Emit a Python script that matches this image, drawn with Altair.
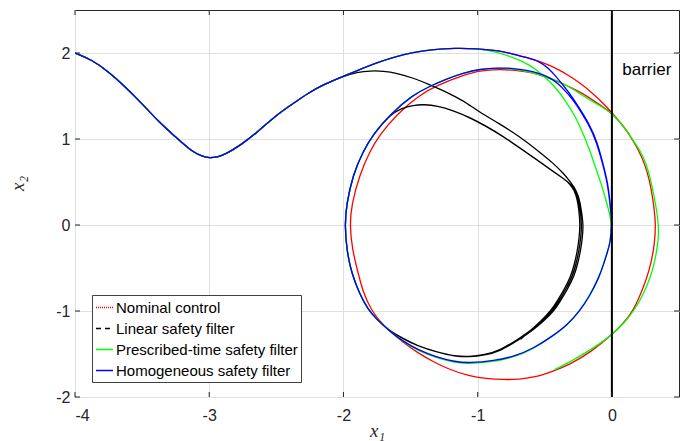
import altair as alt
import pandas as pd

# ---------------- data (x1, x2) ----------------
# common start of all four trajectories
common = [(-4.0, 2.0), (-3.876, 1.922), (-3.753, 1.786), (-3.628, 1.612), (-3.504, 1.418),
          (-3.38, 1.205), (-3.256, 1.031), (-3.132, 0.856), (-3.05, 0.795), (-2.996, 0.779),
          (-2.94, 0.790), (-2.884, 0.817), (-2.76, 0.934), (-2.636, 1.088), (-2.512, 1.263),
          (-2.387, 1.399), (-2.264, 1.535), (-2.139, 1.64), (-2.0, 1.73)]

# shared upper arc (nominal, prescribed-time, homogeneous)
arc = [(-1.854, 1.826), (-1.73, 1.90), (-1.605, 1.961), (-1.48, 2.008), (-1.357, 2.038),
       (-1.159, 2.058), (-1.01, 2.05)]

# left side of the filtered loops (bottom -> top)
left_side = [(-1.668, -1.217), (-1.75, -1.10), (-1.817, -0.985), (-1.88, -0.80), (-1.94, -0.558),
             (-1.975, -0.30), (-1.99, 0.0), (-1.978, 0.236), (-1.929, 0.585), (-1.854, 0.856),
             (-1.78, 1.05), (-1.655, 1.283)]

red_tail = [(-0.836, 2.027), (-0.737, 1.988), (-0.64, 1.95), (-0.538, 1.902), (-0.43, 1.835),
            (-0.315, 1.735), (-0.23, 1.642), (-0.141, 1.528), (-0.07, 1.424), (0.0, 1.306),
            (0.07, 1.18), (0.132, 1.045), (0.194, 0.885), (0.244, 0.715), (0.281, 0.52),
            (0.306, 0.30), (0.321, 0.10), (0.325, 0.0), (0.32, -0.2), (0.293, -0.442),
            (0.256, -0.636), (0.21, -0.82), (0.157, -1.0), (0.09, -1.135), (0.0, -1.276),
            (-0.15, -1.47), (-0.315, -1.624), (-0.44, -1.70), (-0.563, -1.767), (-0.69, -1.795),
            (-0.812, -1.799), (-0.94, -1.785), (-1.06, -1.76), (-1.221, -1.674), (-1.33, -1.59),
            (-1.445, -1.488), (-1.56, -1.36), (-1.668, -1.217), (-1.74, -1.10), (-1.792, -0.985),
            (-1.85, -0.80), (-1.891, -0.558), (-1.935, -0.28), (-1.953, 0.0), (-1.94, 0.236),
            (-1.879, 0.585), (-1.804, 0.856), (-1.73, 1.05), (-1.605, 1.283), (-1.432, 1.515),
            (-1.30, 1.625), (-1.109, 1.74), (-0.985, 1.795), (-0.836, 1.81), (-0.72, 1.80),
            (-0.613, 1.779), (-0.50, 1.73), (-0.39, 1.66), (-0.24, 1.553), (-0.12, 1.43),
            (0.0, 1.302), (0.07, 1.182), (0.132, 1.05)]

black_pass1 = [(-1.90, 1.775), (-1.80, 1.794), (-1.70, 1.79), (-1.605, 1.767), (-1.48, 1.71),
               (-1.357, 1.631), (-1.23, 1.545), (-1.109, 1.447), (-0.998, 1.325), (-0.836, 1.175),
               (-0.687, 1.03), (-0.54, 0.85), (-0.439, 0.721), (-0.36, 0.60), (-0.302, 0.488),
               (-0.265, 0.40), (-0.242, 0.30), (-0.228, 0.178), (-0.212, 0.0), (-0.22, -0.15),
               (-0.232, -0.287), (-0.254, -0.45), (-0.282, -0.598), (-0.332, -0.752),
               (-0.382, -0.88), (-0.432, -1.0), (-0.51, -1.12), (-0.585, -1.217), (-0.687, -1.33),
               (-0.836, -1.47), (-0.95, -1.515), (-1.06, -1.535), (-1.171, -1.528), (-1.30, -1.48),
               (-1.445, -1.41), (-1.56, -1.32)]
black_loop2 = [(-1.568, 1.355), (-1.48, 1.392), (-1.40, 1.40), (-1.30, 1.385), (-1.184, 1.33),
               (-1.06, 1.25), (-0.935, 1.147), (-0.81, 1.03), (-0.687, 0.895), (-0.56, 0.76),
               (-0.439, 0.623), (-0.36, 0.54), (-0.31, 0.48), (-0.272, 0.40), (-0.25, 0.30),
               (-0.236, 0.178), (-0.224, 0.0), (-0.232, -0.15), (-0.244, -0.287), (-0.266, -0.45),
               (-0.294, -0.598), (-0.344, -0.752), (-0.394, -0.88), (-0.444, -1.0),
               (-0.52, -1.115), (-0.59, -1.21), (-0.69, -1.32), (-0.836, -1.46), (-0.95, -1.51),
               (-1.06, -1.532), (-1.171, -1.526), (-1.30, -1.478), (-1.445, -1.408),
               (-1.56, -1.318)]
black_loop3 = [(-1.568, 1.357), (-1.48, 1.394), (-1.40, 1.402), (-1.30, 1.387), (-1.184, 1.332),
               (-1.06, 1.252), (-0.935, 1.149), (-0.81, 1.032), (-0.687, 0.897), (-0.56, 0.762),
               (-0.439, 0.625), (-0.362, 0.542), (-0.316, 0.484), (-0.279, 0.40), (-0.258, 0.30),
               (-0.246, 0.178), (-0.236, 0.0), (-0.244, -0.15), (-0.256, -0.287), (-0.278, -0.45),
               (-0.306, -0.598), (-0.356, -0.752), (-0.406, -0.88), (-0.456, -1.0),
               (-0.53, -1.12), (-0.60, -1.215), (-0.68, -1.33)]

green_a = [(-0.92, 2.03), (-0.836, 2.0), (-0.72, 1.94), (-0.613, 1.864), (-0.51, 1.74),
           (-0.414, 1.593), (-0.34, 1.43), (-0.265, 1.244), (-0.215, 1.06), (-0.166, 0.876),
           (-0.129, 0.70), (-0.082, 0.49), (-0.042, 0.28), (-0.012, 0.1), (0.0, 0.0),
           (-0.013, -0.2), (-0.032, -0.3), (-0.062, -0.45), (-0.095, -0.6), (-0.17, -0.835),
           (-0.245, -1.005), (-0.335, -1.17), (-0.455, -1.31), (-0.585, -1.44), (-0.725, -1.535),
           (-0.885, -1.592), (-1.06, -1.615), (-1.171, -1.60), (-1.30, -1.55), (-1.445, -1.46),
           (-1.56, -1.355)]
green_b = [(-1.482, 1.515), (-1.357, 1.612), (-1.23, 1.70), (-1.109, 1.767), (-0.985, 1.812),
           (-0.836, 1.824), (-0.72, 1.815), (-0.613, 1.78), (-0.50, 1.725), (-0.39, 1.67),
           (-0.29, 1.58), (-0.191, 1.477), (-0.09, 1.39), (0.0, 1.302), (0.07, 1.18),
           (0.132, 1.05), (0.206, 0.876), (0.256, 0.72), (0.293, 0.50), (0.325, 0.25),
           (0.35, 0.0), (0.345, -0.2), (0.318, -0.442), (0.281, -0.636), (0.23, -0.82),
           (0.169, -0.985), (0.095, -1.135), (0.0, -1.276), (-0.1, -1.39), (-0.2, -1.49),
           (-0.31, -1.59), (-0.427, -1.682)]

blue_a = [(-0.836, 2.027), (-0.737, 1.988), (-0.64, 1.95), (-0.538, 1.902), (-0.47, 1.82),
          (-0.41, 1.715), (-0.35, 1.60), (-0.29, 1.477), (-0.23, 1.33), (-0.166, 1.166),
          (-0.11, 0.97), (-0.067, 0.72), (-0.03, 0.488), (-0.012, 0.256), (0.0, 0.0),
          (-0.012, -0.2), (-0.03, -0.3), (-0.06, -0.45), (-0.092, -0.598), (-0.166, -0.83),
          (-0.24, -1.0), (-0.33, -1.16), (-0.45, -1.30), (-0.58, -1.43), (-0.72, -1.525),
          (-0.88, -1.58), (-1.06, -1.605), (-1.171, -1.59), (-1.30, -1.54), (-1.445, -1.45),
          (-1.56, -1.35)]
blue_b = [(-1.482, 1.515), (-1.357, 1.612), (-1.23, 1.70), (-1.109, 1.767), (-0.985, 1.814),
          (-0.836, 1.826), (-0.786, 1.826), (-0.69, 1.812), (-0.588, 1.786), (-0.50, 1.74),
          (-0.439, 1.69), (-0.40, 1.64), (-0.36, 1.58), (-0.295, 1.47), (-0.235, 1.33),
          (-0.17, 1.16), (-0.115, 0.97), (-0.07, 0.72), (-0.033, 0.488), (-0.014, 0.256),
          (0.0, 0.0)]

series_names = ["Nominal control", "Linear safety filter",
                "Prescribed-time safety filter", "Homogeneous safety filter"]
series_colors = ["#ff0000", "#000000", "#00ff00", "#0000ff"]
series_dash = [[1, 1], [5, 4], [1, 0], [1, 0]]

x_ticks = [-4, -3, -2, -1, 0]
y_ticks = [-2, -1, 0, 1, 2]
barrier_x = [0]
barrier_label = "barrier"

# ---------------- build ----------------
W, H = 604, 387
FONT = "Liberation Sans"
AX = "#262626"


def path(pts):
    return pd.DataFrame({"x": [p[0] for p in pts], "y": [p[1] for p in pts],
                         "i": list(range(len(pts)))})


paths = {
    "Nominal control": path(common + arc + red_tail),
    "Linear safety filter": path(common + black_pass1 + left_side + black_loop2 + left_side
                                 + black_loop3),
    "Prescribed-time safety filter": path(common + arc + green_a + left_side + green_b),
    "Homogeneous safety filter": path(common + arc + blue_a + left_side + blue_b),
}

xscale = alt.Scale(domain=[-4, 0.5], nice=False, zero=False)
yscale = alt.Scale(domain=[-2, 2.5], nice=False, zero=False)

xaxis = alt.Axis(values=x_ticks, grid=True, gridColor="#dfdfdf", gridWidth=1, domain=False,
                 ticks=False, labelFont=FONT, labelFontSize=16, labelColor=AX, labelPadding=10,
                 labelExpr="'' + datum.value", title="x₁", titleFont="Liberation Serif",
                 titleFontStyle="italic", titleFontWeight="normal", titleFontSize=19,
                 titleColor=AX, titleBaseline="alphabetic", titleY=39)
yaxis = alt.Axis(values=y_ticks, grid=True, gridColor="#dfdfdf", gridWidth=1, domain=False,
                 ticks=False, labelFont=FONT, labelFontSize=16, labelColor=AX, labelPadding=5,
                 labelExpr="'' + datum.value", title="x₂", titleFont="Liberation Serif",
                 titleFontStyle="italic", titleFontWeight="normal", titleFontSize=19,
                 titleColor=AX, titleBaseline="alphabetic", titleX=-52, titleY=173,
                 titleAngle=270)

grid_layer = alt.Chart(pd.DataFrame({"x": x_ticks, "y": y_ticks})).mark_point(opacity=0).encode(
    x=alt.X("x:Q", scale=xscale, axis=xaxis),
    y=alt.Y("y:Q", scale=yscale, axis=yaxis),
)

line_layers = []
for name, col in zip(series_names, series_colors):
    line_layers.append(
        alt.Chart(paths[name]).mark_line(color=col, strokeWidth=1.3, clip=True,
                                         interpolate="basis").encode(
            x=alt.X("x:Q", scale=xscale),
            y=alt.Y("y:Q", scale=yscale),
            order="i:Q",
        )
    )

barrier = alt.Chart(pd.DataFrame({"x": barrier_x})).mark_rule(color="black", strokeWidth=2).encode(
    x=alt.X("x:Q", scale=xscale)
)

barrier_text = alt.Chart(pd.DataFrame({"x": [0.077], "y": [1.748], "t": [barrier_label]})).mark_text(
    align="left", baseline="alphabetic", font=FONT, fontSize=17, color="black"
).encode(x=alt.X("x:Q", scale=xscale), y=alt.Y("y:Q", scale=yscale), text="t:N")

leg_props = dict(title=None, orient="none", legendX=17, legendY=285, direction="vertical",
                 symbolType="stroke", symbolSize=289, symbolStrokeWidth=1.3,
                 labelFont=FONT, labelFontSize=15, labelColor="black", padding=3,
                 rowPadding=3, labelOffset=2, strokeColor="#404040", fillColor="white",
                 labelLimit=400)
legend_layer = alt.Chart(pd.DataFrame({"s": series_names})).mark_line().encode(
    stroke=alt.Stroke("s:N", scale=alt.Scale(domain=series_names, range=series_colors),
                      legend=alt.Legend(**leg_props)),
    strokeDash=alt.StrokeDash("s:N", scale=alt.Scale(domain=series_names, range=series_dash),
                              legend=alt.Legend(**leg_props)),
)

tx = pd.DataFrame({"v": x_ticks})
ty = pd.DataFrame({"v": y_ticks})
tick_bottom = alt.Chart(tx).mark_rule(color=AX).encode(
    x=alt.X("v:Q", scale=xscale), y=alt.value(H), y2=alt.value(H - 5))
tick_top = alt.Chart(tx).mark_rule(color=AX).encode(
    x=alt.X("v:Q", scale=xscale), y=alt.value(0), y2=alt.value(5))
tick_left = alt.Chart(ty).mark_rule(color=AX).encode(
    y=alt.Y("v:Q", scale=yscale), x=alt.value(0), x2=alt.value(5))
tick_right = alt.Chart(ty).mark_rule(color=AX).encode(
    y=alt.Y("v:Q", scale=yscale), x=alt.value(W - 5), x2=alt.value(W))

chart = alt.layer(
    grid_layer, *line_layers, barrier, barrier_text,
    tick_bottom, tick_top, tick_left, tick_right, legend_layer
).properties(
    width=W, height=H,
    autosize=alt.AutoSizeParams(type="none"),
    padding={"left": 67, "top": 2, "right": 5, "bottom": 44},
    background="white",
).configure_view(stroke=AX, strokeWidth=1)

chart.save("out.html", embed_options={"renderer": "svg", "actions": False})
